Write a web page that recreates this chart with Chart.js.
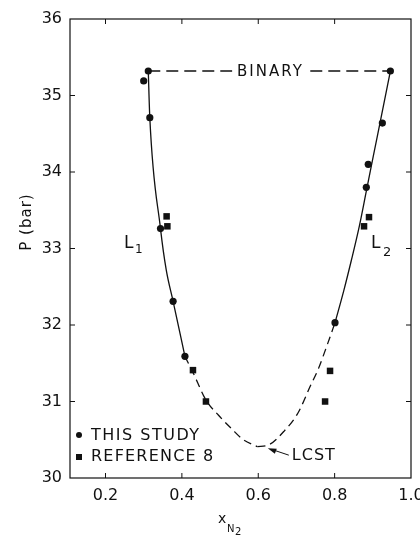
<!DOCTYPE html>
<html lang="en">
  <head>
    <meta charset="UTF-8" />
    <title>P vs x N2</title>
    <script src="https://cdn.jsdelivr.net/npm/chart.js"></script>
    <style>
      body {
        margin: 0;
        background-color: #ffffff;
      }
      #phaseChart {
        display: block;
      }
    </style>
  </head>
  <body>
    <canvas id="phaseChart" width="420" height="535"></canvas>
    <script>
      // data points
      const studyX = [0.312, 0.300, 0.316, 0.344, 0.377, 0.408, 0.946, 0.925, 0.888, 0.883, 0.801];
      const studyY = [35.32, 35.19, 34.71, 33.26, 32.31, 31.59, 35.32, 34.64, 34.10, 33.80, 32.03];
      const refX = [0.360, 0.362, 0.429, 0.463, 0.890, 0.877, 0.788, 0.775];
      const refY = [33.42, 33.29, 31.41, 31.00, 33.41, 33.29, 31.40, 31.00];

      // fitted curve (L1 / L2 branches), solid where measured, dashed near LCST
      const leftSolidX = [0.312, 0.316, 0.344, 0.359, 0.377, 0.408];
      const leftSolidY = [35.32, 34.71, 33.26, 32.72, 32.31, 31.59];
      const leftDashX = [0.408, 0.429, 0.463, 0.496, 0.531, 0.561, 0.598];
      const leftDashY = [31.59, 31.38, 31.02, 30.82, 30.64, 30.50, 30.41];
      const rightDashX = [0.598, 0.626, 0.669, 0.704, 0.738, 0.756, 0.782, 0.801];
      const rightDashY = [30.41, 30.43, 30.62, 30.85, 31.22, 31.41, 31.76, 32.03];
      const rightSolidX = [0.801, 0.824, 0.844, 0.865, 0.883, 0.901, 0.922, 0.946];
      const rightSolidY = [32.03, 32.45, 32.85, 33.30, 33.75, 34.20, 34.72, 35.32];
      const binaryX = [0.312, 0.946];
      const binaryY = [35.32, 35.32];

      const xTicks = [0.2, 0.4, 0.6, 0.8, 1.0];
      const yTicks = [30, 31, 32, 33, 34, 35, 36];

      function zip(xs, ys) {
        return xs.map((x, i) => ({ x: x, y: ys[i] }));
      }

      const FONT = "'DejaVu Sans', sans-serif";
      const INK = "#111";

      function curve(xs, ys, dash) {
        return {
          data: zip(xs, ys),
          showLine: true,
          borderColor: INK,
          borderWidth: 1.3,
          borderDash: dash,
          pointRadius: 0,
          cubicInterpolationMode: "monotone",
          fill: false,
        };
      }

      function drawText(ctx, str, x, y, size, align, spacing) {
        ctx.font = size + "px " + FONT;
        ctx.letterSpacing = (spacing || 0) + "px";
        ctx.textAlign = align || "left";
        ctx.textBaseline = "middle";
        ctx.fillStyle = INK;
        ctx.fillText(str, x, y);
        ctx.letterSpacing = "0px";
      }

      // frame, inward ticks and the lettering on the figure
      const decorations = {
        id: "decorations",
        afterDatasetsDraw(chart) {
          const ctx = chart.ctx;
          const a = chart.chartArea;
          const xs = chart.scales.x;
          const ys = chart.scales.y;
          ctx.save();
          ctx.strokeStyle = INK;
          ctx.lineWidth = 1.2;
          ctx.strokeRect(a.left, a.top, a.right - a.left, a.bottom - a.top);

          ctx.lineWidth = 1;
          ctx.beginPath();
          xTicks.slice(0, -1).forEach((v) => {
            const px = xs.getPixelForValue(v);
            ctx.moveTo(px, a.bottom);
            ctx.lineTo(px, a.bottom - 5);
            ctx.moveTo(px, a.top);
            ctx.lineTo(px, a.top + 5);
          });
          yTicks.slice(1, -1).forEach((v) => {
            const py = ys.getPixelForValue(v);
            ctx.moveTo(a.left, py);
            ctx.lineTo(a.left + 5, py);
            ctx.moveTo(a.right, py);
            ctx.lineTo(a.right - 5, py);
          });
          ctx.stroke();

          // BINARY label over the tie line
          const bx = xs.getPixelForValue(0.632);
          const by = ys.getPixelForValue(35.32);
          ctx.fillStyle = "#fff";
          ctx.fillRect(bx - 38, by - 8, 76, 16);
          drawText(ctx, "BINARY", bx, by + 1, 15, "center", 2);

          // branch labels
          drawText(ctx, "L", 124, 244, 17, "left");
          drawText(ctx, "1", 135, 250, 12, "left");
          drawText(ctx, "L", 371, 244, 17, "left");
          drawText(ctx, "2", 383, 253, 13, "left");

          // LCST with arrow
          const tipX = xs.getPixelForValue(0.625);
          const tipY = ys.getPixelForValue(30.39);
          const tailX = tipX + 21;
          const tailY = tipY + 7;
          ctx.beginPath();
          ctx.moveTo(tailX, tailY);
          ctx.lineTo(tipX + 4, tipY + 1.3);
          ctx.stroke();
          ctx.beginPath();
          ctx.moveTo(tipX, tipY);
          ctx.lineTo(tipX + 9, tipY + 0.5);
          ctx.lineTo(tipX + 7, tipY + 5.5);
          ctx.closePath();
          ctx.fillStyle = INK;
          ctx.fill();
          drawText(ctx, "LCST", tailX + 3, tailY + 1, 16, "left", 1);

          // legend
          ctx.fillStyle = INK;
          ctx.beginPath();
          ctx.arc(79, 435, 3, 0, Math.PI * 2);
          ctx.fill();
          ctx.fillRect(76, 454, 6, 6);
          drawText(ctx, "THIS STUDY", 91, 436, 16, "left", 1.5);
          drawText(ctx, "REFERENCE 8", 91, 457, 16, "left", 1.2);

          // axis titles
          drawText(ctx, "x", 218, 519, 14, "left");
          drawText(ctx, "N", 227, 529, 10, "left");
          drawText(ctx, "2", 235, 532, 10, "left");

          ctx.save();
          ctx.translate(27, 222);
          ctx.rotate(-Math.PI / 2);
          drawText(ctx, "P (bar)", 0, 0, 15, "center", 1);
          ctx.restore();

          ctx.restore();
        },
      };

      const ctx = document.getElementById("phaseChart").getContext("2d");
      const phaseChart = new Chart(ctx, {
        type: "scatter",
        data: {
          datasets: [
            curve(binaryX, binaryY, [12, 6]),
            curve(leftSolidX, leftSolidY, []),
            curve(leftDashX, leftDashY, [8, 5]),
            curve(rightDashX, rightDashY, [8, 5]),
            curve(rightSolidX, rightSolidY, []),
            {
              label: "THIS STUDY",
              data: zip(studyX, studyY),
              pointStyle: "circle",
              pointRadius: 3.6,
              backgroundColor: INK,
              borderColor: INK,
              borderWidth: 0,
            },
            {
              label: "REFERENCE 8",
              data: zip(refX, refY),
              pointStyle: "rect",
              pointRadius: 4.6,
              backgroundColor: INK,
              borderColor: INK,
              borderWidth: 0,
            },
          ],
        },
        options: {
          responsive: false,
          animation: false,
          layout: {
            padding: { left: 0, right: 9, top: 19, bottom: 0 },
          },
          plugins: {
            legend: { display: false },
            tooltip: { enabled: false },
          },
          scales: {
            x: {
              type: "linear",
              min: 0.107,
              max: 1.0,
              afterBuildTicks: (scale) => {
                scale.ticks = xTicks.map((v) => ({ value: v }));
              },
              afterFit: (scale) => {
                scale.height = 57;
                scale.paddingRight = 0;
                scale.paddingLeft = 0;
              },
              grid: { display: false, drawTicks: false },
              border: { display: false },
              ticks: {
                color: INK,
                padding: 8,
                maxRotation: 0,
                font: { family: FONT, size: 16 },
                callback: (v) => Number(v).toFixed(1),
              },
            },
            y: {
              min: 30,
              max: 36,
              afterBuildTicks: (scale) => {
                scale.ticks = yTicks.map((v) => ({ value: v }));
              },
              afterFit: (scale) => {
                scale.width = 70;
                scale.paddingTop = 0;
                scale.paddingBottom = 0;
              },
              grid: { display: false, drawTicks: false },
              border: { display: false },
              ticks: {
                color: INK,
                padding: 8,
                font: { family: FONT, size: 16 },
              },
            },
          },
        },
        plugins: [decorations],
      });
    </script>
  </body>
</html>
